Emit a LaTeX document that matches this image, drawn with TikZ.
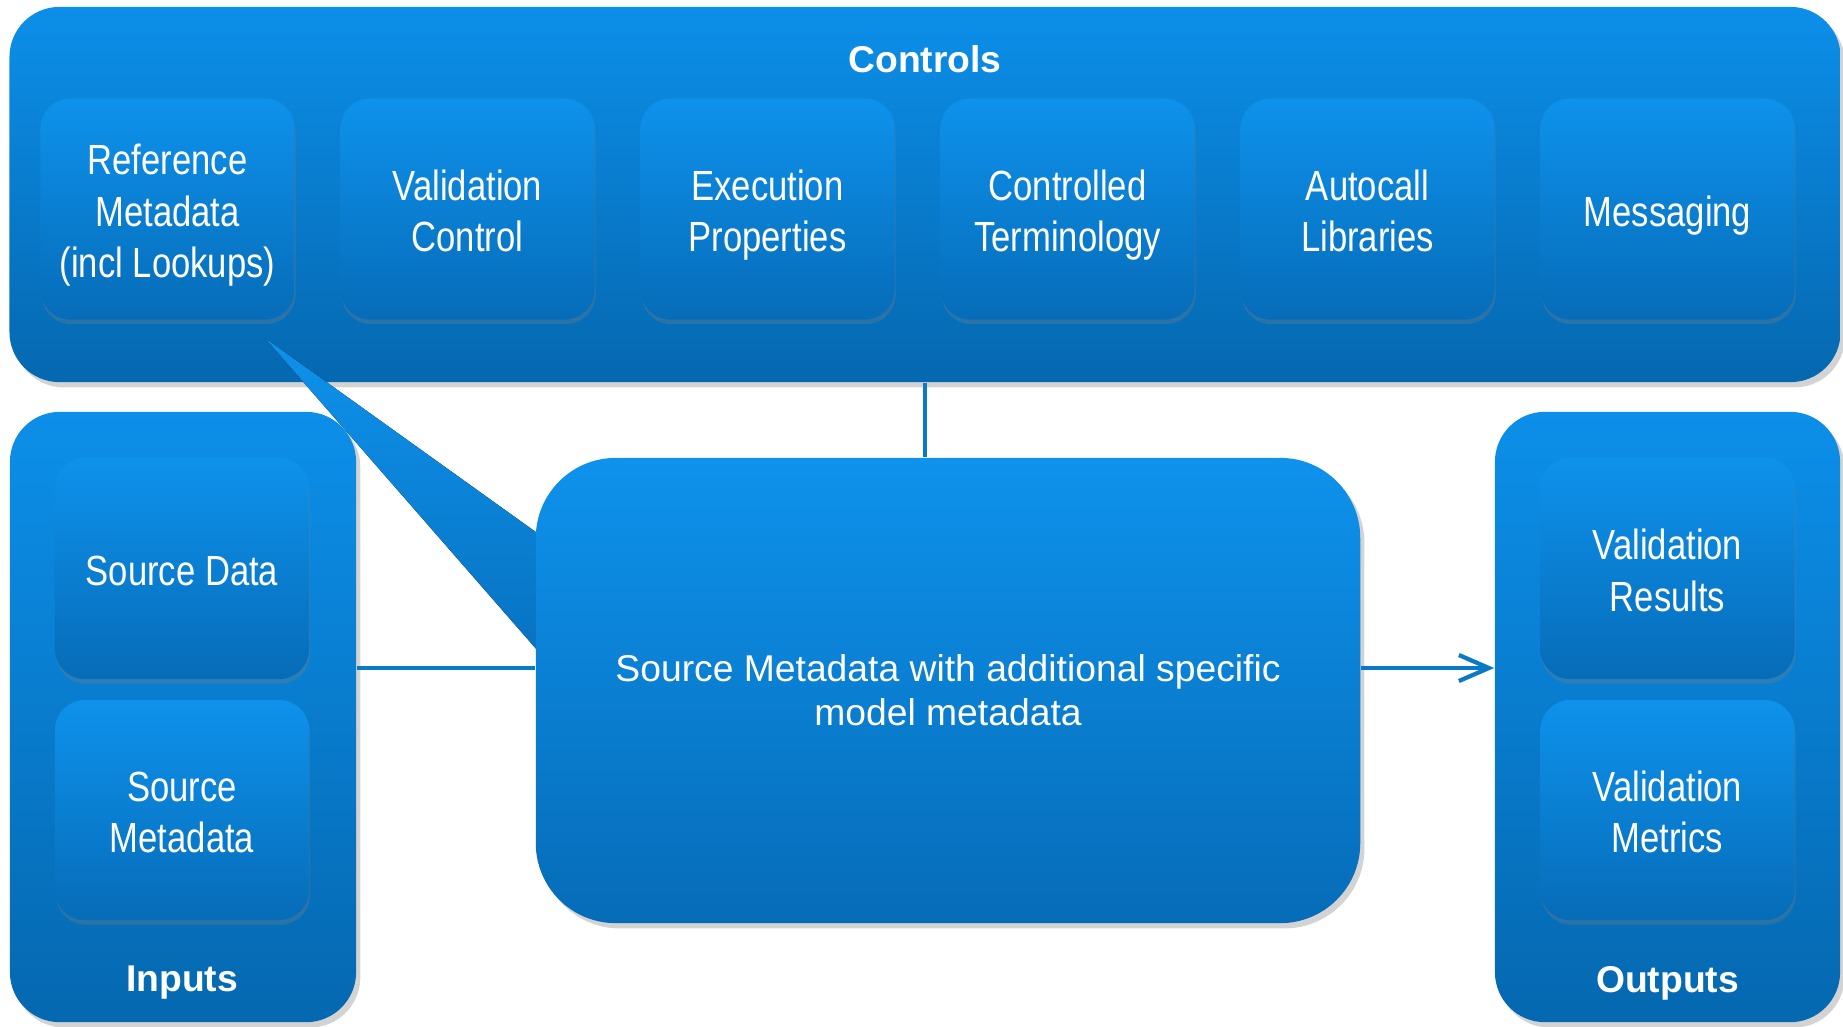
\documentclass[tikz,border=0pt]{standalone}
\usepackage{fontspec}
\setmainfont{Liberation Sans}
\newfontfamily\narrowfont[FakeStretch=0.82]{Liberation Sans}
\usetikzlibrary{shadows,arrows.meta}
\definecolor{bluetop}{RGB}{12,143,233}
\definecolor{bluebot}{RGB}{5,104,176}
\definecolor{innertop}{RGB}{14,146,236}
\definecolor{innerbot}{RGB}{6,108,184}
\definecolor{linecol}{RGB}{10,122,200}
\newcommand\toprule{\rule{0pt}{14.1pt}}
\newcommand\botrule{\rule[-4.41pt]{0pt}{4.41pt}}
\begin{document}
\begin{tikzpicture}[x=0.01cm,y=-0.01cm,
 container/.style={rounded corners=0.5cm, top color=bluetop, bottom color=bluebot,
   drop shadow={shadow xshift=1.2pt, shadow yshift=-1.5pt, opacity=0.35}, inner sep=0pt},
 item/.style={rounded corners=0.3cm, top color=innertop, bottom color=innerbot,
   minimum width=2.54cm, minimum height=2.21cm, text=white, align=center,
   font=\narrowfont\fontsize{12}{14.7}\selectfont,
   drop shadow={shadow xshift=0.3pt, shadow yshift=-1.3pt, opacity=0.3}, inner sep=0pt},
 title/.style={text=white, font=\bfseries\fontsize{10.6}{12.7}\selectfont},
 conn/.style={draw=linecol, line width=1.2pt}
]
\useasboundingbox (0,0) rectangle (1843,1026);

% containers
\node[container, minimum width=18.30cm, minimum height=3.75cm] (controls) at (925,194.5) {};
\node[container, minimum width=3.46cm, minimum height=6.10cm] (inputs) at (183,717) {};
\node[container, minimum width=3.45cm, minimum height=6.10cm] (outputs) at (1667.5,717) {};

\node[title] (ctitle) at (925,59) {Controls};
\node[title] (ititle) at (182,983) {Inputs};
\node[title] (otitle) at (1667.5,983) {Outputs};

% control items
\node[item] (refmeta) at (167.5,209) {\toprule Reference\\Metadata\\(incl Lookups)\botrule};
\node[item] (valctl) at (467.5,209) {\toprule Validation\\Control\botrule};
\node[item] (exprop) at (767.5,209) {\toprule Execution\\Properties\botrule};
\node[item] (ctterm) at (1067.5,209) {\toprule Controlled\\Terminology\botrule};
\node[item] (autocall) at (1367.5,209) {\toprule Autocall\\Libraries\botrule};
\node[item] (msg) at (1667.5,209) {\toprule Messaging\botrule};

% input / output items
\node[item] (srcdata) at (182,568.5) {\toprule Source Data\botrule};
\node[item, minimum height=2.20cm] (srcmeta) at (182,810) {\toprule Source\\Metadata\botrule};
\node[item] (valres) at (1667.5,568.5) {\toprule Validation\\Results\botrule};
\node[item, minimum height=2.20cm] (valmet) at (1667.5,810) {\toprule Validation\\Metrics\botrule};

% callout pointer
\fill[top color=innertop, bottom color=innerbot,
   drop shadow={shadow xshift=1.2pt, shadow yshift=-1.5pt, opacity=0.35}]
   (265,338) -- (600,578) -- (600,722) -- cycle;

% central box
\node[container, rounded corners=0.8cm, top color=innertop, bottom color=innerbot,
   minimum width=8.24cm, minimum height=4.65cm, text=white, align=center,
   font=\fontsize{10.6}{12.5}\selectfont] (central) at (948,690.5)
   {Source Metadata with additional specific\\model metadata};

% connectors
\coordinate (midline) at (0,668);
\draw[conn] (controls.south) -- (controls.south |- central.north);
\draw[conn] (inputs.east |- midline) -- (central.west |- midline);
\draw[conn, -{Straight Barb[length=0.3cm, width=0.26cm, line width=1.2pt]}]
   (central.east |- midline) -- (outputs.west |- midline);
\end{tikzpicture}
\end{document}
